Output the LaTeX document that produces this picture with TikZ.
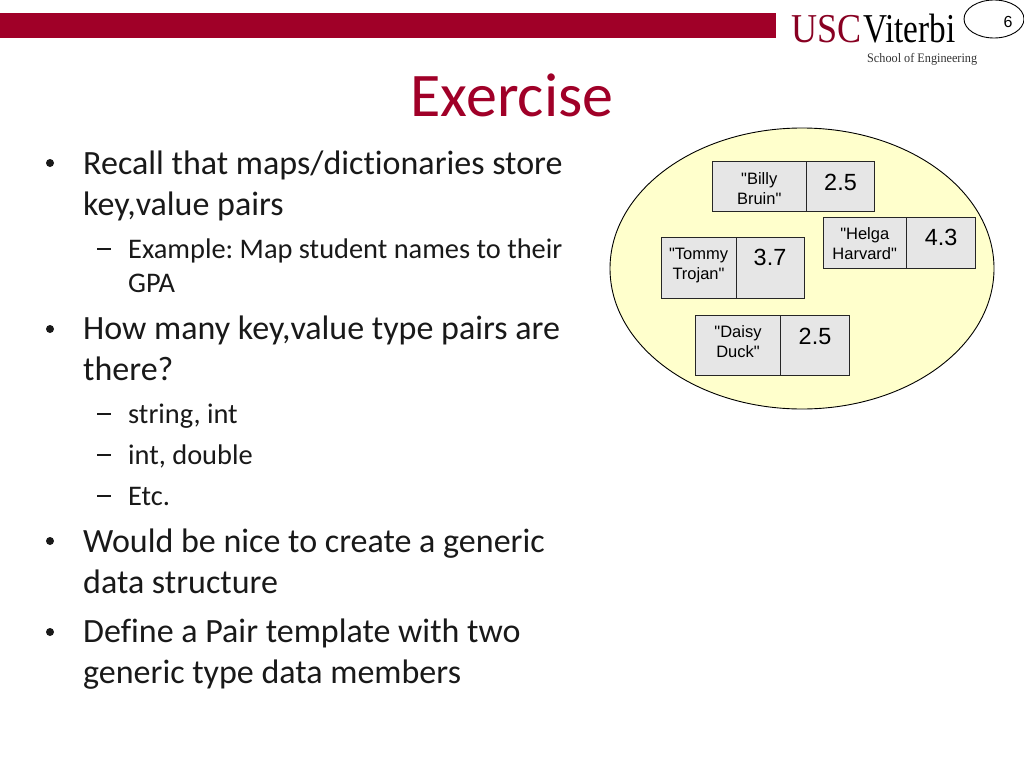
\documentclass[tikz,border=0pt]{standalone}
\usepackage{fontspec}
\setmainfont[Ligatures=CommonOff]{Carlito}
\newfontfamily\arialf{Liberation Sans}
\newfontfamily\timesf{Liberation Serif}
\definecolor{uscred}{HTML}{A00028}
\definecolor{cellgray}{HTML}{E6E6E6}
\definecolor{blobfill}{HTML}{FFFFCC}
\frenchspacing
\tikzset{
  px/.style={x=1pt,y=-1pt},
  lone/.style={anchor=base west,inner sep=0pt,font=\fontsize{34}{34}\selectfont,text=black!90},
  ltwo/.style={anchor=base west,inner sep=0pt,font=\fontsize{28.4}{28.4}\selectfont,text=black!90},
  bullet/.style={circle,fill=black!90,inner sep=0pt,minimum size=8pt},
  dashmark/.style={fill=black!90,inner sep=0pt,minimum width=14pt,minimum height=1.6pt},
  keytext/.style={anchor=base,inner sep=0pt,align=center,font=\arialf\fontsize{16.5}{20}\selectfont},
  valtext/.style={anchor=base,inner sep=0pt,font=\arialf\fontsize{23.4}{24}\selectfont},
}
% #1 name, #2 x left, #3 x split, #4 x right, #5 y top, #6 y bottom, #7 first line, #8 second line
\newcommand{\paircell}[8]{%
  \path[fill=cellgray,draw=black!85,line width=0.9pt] (#2,#5) rectangle (#4,#6);
  \draw[black!85,line width=0.9pt] (#3,#5) -- (#3,#6);
  \node[keytext] (#1a) at ({(#2+#3)/2},#5+22.3) {#7};
  \node[keytext] (#1b) at ({(#2+#3)/2},#5+42.3) {#8};
}
\begin{document}
\begin{tikzpicture}[px]
\useasboundingbox (0,0) rectangle (1024,768);
\fill[white] (0,0) rectangle (1024,768);
% band
\fill[uscred] (0,13) rectangle (776,38);
% logo
\node[anchor=base west,inner sep=0pt,text=uscred!85!black,font=\timesf\fontsize{41}{41}\selectfont,xscale=0.88] (usc) at (791,43) {USC};
\node[anchor=base west,inner sep=0pt,text=black,font=\timesf\fontsize{41}{41}\selectfont,xscale=0.81] (vit) at (863,43) {Viterbi};
\node[anchor=base west,inner sep=0pt,text=black!80,font=\timesf\fontsize{13}{13}\selectfont,xscale=0.94] (soe) at (867,63) {School of Engineering};
% page number
\draw[black,fill=white,line width=0.9pt] (994,19) ellipse [x radius=30,y radius=19];
\node[anchor=base,inner sep=0pt,font=\arialf\fontsize{16}{16}\selectfont] (num) at (1008,28) {6};
% title
\node[anchor=base,inner sep=0pt,text=uscred,font=\fontsize{62}{62}\selectfont] (title) at (512,116) {Exercise};
% bullets
\node[bullet] (ba) at (50,163) {}; \node[lone] (a1) at (83,174.5) {Recall that maps/dictionaries store};
\node[lone] (a2) at (83,215.5) {key,value pairs};
\node[dashmark] (m1) at (104,249) {}; \node[ltwo] (b1) at (128,258) {Example: Map student names to their};
\node[ltwo] (b2) at (128,292) {GPA};
\node[bullet] (bc) at (50,329) {}; \node[lone] (c1) at (83,339.5) {How many key,value type pairs are};
\node[lone] (c2) at (83,380.5) {there?};
\node[dashmark] (m2) at (104,414) {}; \node[ltwo] (d1) at (128,423) {string, int};
\node[dashmark] (m3) at (104,455) {}; \node[ltwo] (d2) at (128,464) {int, double};
\node[dashmark] (m4) at (104,496) {}; \node[ltwo] (d3) at (128,505) {Etc.};
\node[bullet] (be) at (50,541) {}; \node[lone] (e1) at (83,552.5) {Would be nice to create a generic};
\node[lone] (e2) at (83,593.5) {data structure};
\node[bullet] (bf) at (50,632) {}; \node[lone] (f1) at (83,642.5) {Define a Pair template with two};
\node[lone] (f2) at (83,683.5) {generic type data members};
% set
\draw[black,fill=blobfill,line width=0.9pt] (802,268.5) ellipse [x radius=192,y radius=140.5];
% pairs
\paircell{bill}{712.5}{806}{874.5}{161.7}{211.5}{"Billy}{Bruin"}
\node[valtext] (billv) at (840.5,190) {2.5};
\paircell{helg}{823}{906.5}{975}{217.5}{268.5}{"Helga}{Harvard"}
\node[valtext] (helgv) at (941,245) {4.3};
\paircell{tomm}{661}{736}{804.5}{237}{298.5}{"Tommy}{Trojan"}
\node[valtext] (tommv) at (770,265) {3.7};
\paircell{dais}{695.5}{780.5}{849}{315.5}{375.5}{"Daisy}{Duck"}
\node[valtext] (daisv) at (815,344) {2.5};
\end{tikzpicture}
\end{document}
